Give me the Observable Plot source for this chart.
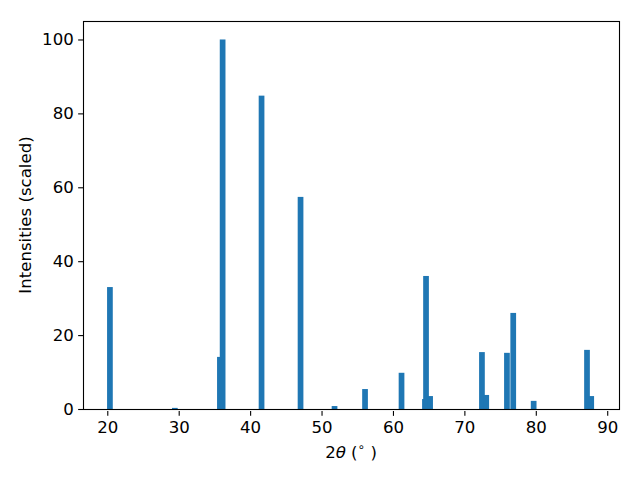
<!DOCTYPE html>
<html><head><meta charset="utf-8">
<script src="https://cdn.jsdelivr.net/npm/d3@7"></script>
<script src="https://cdn.jsdelivr.net/npm/@observablehq/plot@0.6"></script>
<style>body{margin:0;background:#fff} svg text{font-family:"DejaVu Sans";}</style>
</head><body><div id="chart"></div>
<script>
// 2θ peak positions (degrees) and scaled intensities
const theta = [20.37, 29.46, 35.77, 36.15, 41.60, 47.06, 51.82, 56.09, 61.20, 64.48, 64.63, 65.20, 72.46, 73.06, 75.96, 76.84, 79.70, 87.17, 87.76];
const intensity = [33.0, 0.3, 14.1, 100.0, 84.8, 57.4, 0.8, 5.4, 9.8, 2.7, 36.0, 3.5, 15.4, 3.8, 15.2, 26.0, 2.2, 16.0, 3.5];
const xTicks = [20, 30, 40, 50, 60, 70, 80, 90];
const yTicks = [0, 20, 40, 60, 80, 100];
const xLabelParts = ["2", "θ", " (", "∘", " )"];
const yLabel = "Intensities (scaled)";

const barWidth = 0.8;
const fs = 16.6;
const tick = 4.86;
const data = theta.map((t, i) => ({theta: t, intensity: intensity[i]}));

const W = 640, H = 480, mL = 83, mR = 21, mT = 21, mB = 71;
const chart = Plot.plot({
  width: W, height: H,
  marginLeft: mL, marginRight: mR, marginTop: mT, marginBottom: mB,
  style: {fontFamily: "DejaVu Sans", fontSize: fs + "px", background: "white", color: "black"},
  x: {domain: [16.6, 91.65]},
  y: {domain: [0, 105]},
  marks: [
    Plot.rectY(data, {x1: d => d.theta - barWidth / 2, x2: d => d.theta + barWidth / 2, y1: 0, y2: "intensity", fill: "#1f77b4"}),
    Plot.axisX({ticks: xTicks, tickSize: tick, tickPadding: tick, label: null, strokeWidth: 1.1, fontSize: fs, dy: 2, tickFormat: d => String(d)}),
    Plot.axisY({ticks: yTicks, tickSize: tick, tickPadding: tick, label: null, strokeWidth: 1.1, fontSize: fs, tickFormat: d => String(d)}),
    Plot.frame({stroke: "black", strokeWidth: 1.1})
  ]
});
document.getElementById("chart").appendChild(chart);

const svg = d3.select(chart);
const xl = svg.append("text")
  .attr("x", (mL + W - mR) / 2).attr("y", 458)
  .attr("text-anchor", "middle")
  .attr("font-size", fs).style("font-size", fs + "px").attr("fill", "black");
xLabelParts.forEach((p, i) => {
  const t = xl.append("tspan").text(p);
  if (i === 1) t.style("font-style", "italic");
  if (i === 3) t.attr("dy", -7).style("font-size", "12px");
  if (i === 4) t.attr("dy", 7);
});
svg.append("text")
  .attr("transform", `translate(31,${(mT + H - mB) / 2}) rotate(-90)`)
  .attr("text-anchor", "middle")
  .attr("font-size", fs).style("font-size", fs + "px").attr("fill", "black")
  .text(yLabel);
</script>
</body></html>
